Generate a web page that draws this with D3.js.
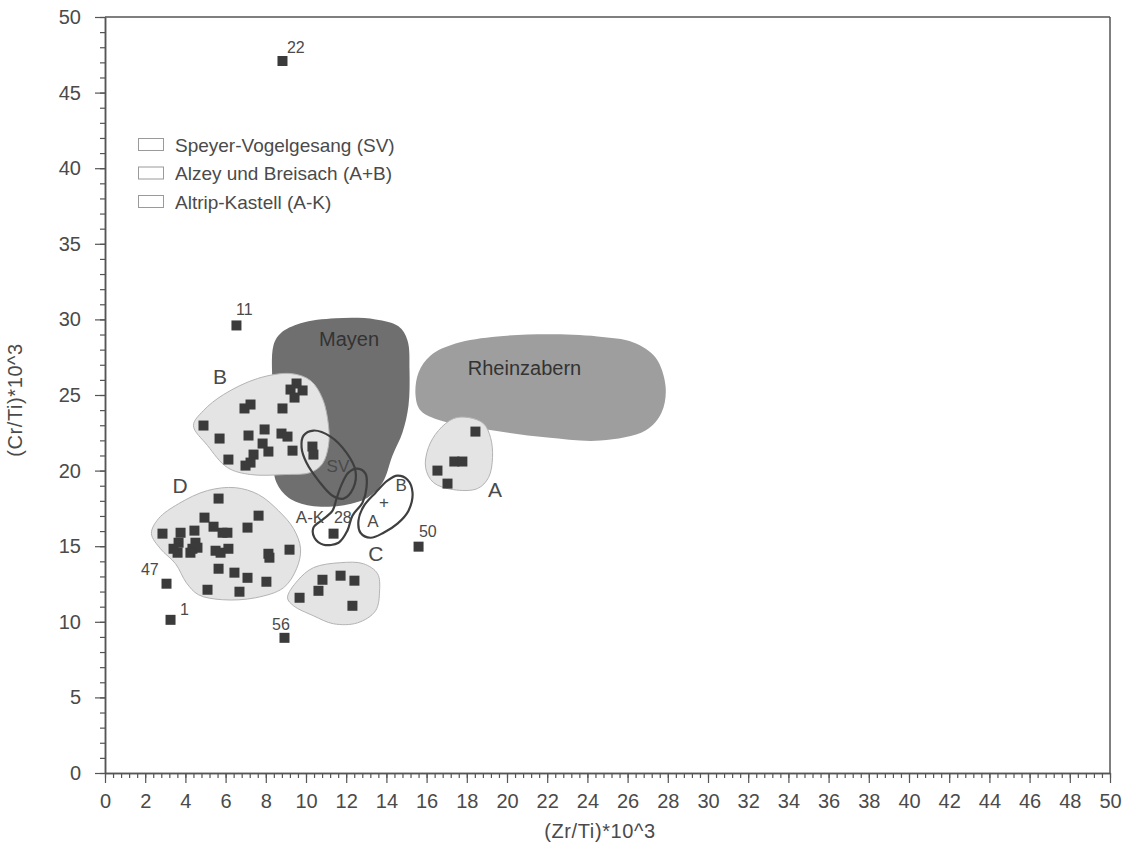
<!DOCTYPE html>
<html>
<head>
<meta charset="utf-8">
<script src="https://cdn.jsdelivr.net/npm/d3@7"></script>
<style>
  html, body { margin: 0; padding: 0; background: #ffffff; }
  svg { display: block; font-family: "Liberation Sans", Arial, sans-serif; }
</style>
</head>
<body>
<svg id="chart" width="1135" height="852"></svg>
<script>
// ---- axes ----
const xDomain = [0, 50];
const yDomain = [0, 50];
const xMajorTicks = d3.range(0, 51, 2);
const xMinorTicks = d3.range(0, 126).map(i => +(i * 0.4).toFixed(1));
const yMajorTicks = d3.range(0, 51, 5);
const yMinorTicks = d3.range(0, 51, 1);
const xTitle = "(Zr/Ti)*10^3";
const yTitle = "(Cr/Ti)*10^3";

// ---- reference fields (outlines in Zr/Ti, Cr/Ti units) ----
const fieldRheinzabern = [[15.45,24.97],[15.6,26.49],[16.2,27.62],[17.44,28.41],[19.53,28.87],[22.01,29.01],[24.5,28.87],[26.29,28.48],[27.39,27.48],[27.89,25.56],[27.69,23.84],[26.89,22.65],[24.65,21.99],[22.01,22.19],[19.33,22.65],[16.69,23.31],[15.7,23.97]];
const fieldMayen = [[8.38,28.28],[8.73,29.07],[9.73,29.74],[11.47,30.07],[13.46,30.0],[14.6,29.54],[15.05,28.61],[15.15,26.62],[15.1,24.3],[14.8,22.52],[14.3,20.99],[13.81,19.21],[13.06,18.21],[11.72,17.68],[10.22,17.68],[9.13,18.21],[8.53,19.21],[8.33,21.32],[8.33,25.3]];

// ---- sample groups (light fields) ----
const groupB = [[4.4,22.98],[4.9,23.97],[5.9,25.03],[7.59,26.09],[9.23,26.42],[10.22,25.96],[10.82,24.77],[11.12,22.98],[11.12,21.66],[10.82,20.46],[10.22,19.87],[8.98,19.74],[7.24,19.74],[6.09,20.2],[5.1,21.66]];
const groupD = [[2.31,15.83],[2.66,16.82],[3.66,17.81],[5.1,18.68],[6.49,18.87],[7.64,18.41],[8.63,17.35],[9.38,16.16],[9.73,14.83],[9.53,13.51],[8.88,12.25],[7.49,11.59],[5.85,11.46],[4.65,11.79],[4.05,12.58],[3.51,13.84],[2.76,14.83]];
const groupC = [[9.08,11.59],[9.58,12.72],[10.37,13.58],[11.72,13.91],[12.86,13.84],[13.56,13.18],[13.66,12.05],[13.46,10.73],[12.56,9.93],[11.37,9.87],[10.37,10.4],[9.38,11.06]];
const groupA = [[18.08,23.51],[18.83,23.11],[19.18,22.19],[19.28,20.86],[19.08,19.54],[18.53,18.81],[17.34,18.74],[16.34,19.21],[15.95,20.2],[16.09,21.52],[16.59,22.65],[17.34,23.44]];

// ---- production sites (outlined) ----
const siteSV = [[9.88,22.32],[10.37,22.65],[11.22,22.25],[12.01,21.19],[12.46,20.0],[12.36,18.87],[11.87,18.15],[11.32,18.34],[10.62,19.34],[10.02,20.53],[9.78,21.52]];
const siteAK = [[12.56,20.13],[12.96,19.8],[13.01,18.87],[12.81,17.88],[12.31,17.02],[12.06,16.03],[11.62,15.23],[10.87,15.1],[10.42,15.56],[10.37,16.23],[10.82,16.75],[11.32,17.35],[11.52,18.15],[11.77,19.07],[12.11,19.87]];
const siteAB = [[14.55,19.67],[15.05,19.4],[15.3,18.54],[15.1,17.35],[14.55,16.49],[13.86,15.89],[13.21,15.56],[12.71,15.89],[12.61,16.69],[12.86,17.62],[13.46,18.54],[14.05,19.34]];

// ---- measured samples ----
const samplesB = [[4.9,22.98],[5.7,22.12],[6.14,20.73],[6.94,24.11],[7.24,24.37],[7.14,22.32],[7.94,22.72],[8.83,24.11],[8.78,22.45],[9.08,22.25],[7.84,21.79],[8.13,21.26],[9.33,21.32],[10.32,21.59],[10.37,21.06],[7.39,21.06],[7.24,20.53],[6.99,20.33],[9.53,25.76],[9.23,25.36],[9.83,25.3],[9.43,24.83]];
const samplesD = [[5.65,18.15],[4.95,16.89],[7.64,17.02],[7.09,16.23],[2.86,15.83],[3.76,15.89],[4.45,16.03],[5.4,16.29],[5.85,15.89],[6.09,15.89],[3.66,15.23],[3.41,14.83],[3.61,14.57],[4.5,15.23],[4.35,14.83],[4.6,14.9],[4.25,14.57],[5.5,14.7],[5.75,14.57],[6.14,14.83],[8.13,14.5],[8.18,14.24],[9.18,14.77],[5.65,13.51],[6.44,13.25],[7.09,12.91],[8.03,12.65],[5.1,12.12],[6.69,11.99]];
const samplesC = [[9.68,11.59],[10.82,12.78],[10.62,12.05],[11.72,13.05],[12.41,12.72],[12.31,11.06]];
const samplesA = [[18.43,22.58],[17.38,20.6],[17.78,20.6],[16.54,20.0],[17.04,19.14]];
const outliers = [[8.83,47.09],[6.54,29.6],[3.06,12.52],[3.26,10.13],[8.93,8.94],[11.37,15.83],[15.6,14.97]];

// ---- annotations: [x, y, text] ----
const sampleNumbers = [[9.05,47.62,"22"],[6.52,30.29,"11"],[1.79,13.1,"47"],[3.73,10.45,"1"],[8.31,9.46,"56"],[11.39,16.53,"28"],[15.62,15.61,"50"]];
const groupLabels = [[5.72,25.73,"B"],[3.73,18.52,"D"],[13.48,14.02,"C"],[19.4,18.25,"A"]];
const fieldLabels = [[12.14,28.24,"Mayen"],[20.87,26.32,"Rheinzabern"]];
const siteLabels = [[11.59,19.91,"SV"],[10.2,16.53,"A-K"],[14.73,18.65,"B"],[13.33,16.27,"A"],[13.88,17.55,"+"]];
const legendItems = ["Speyer-Vogelgesang (SV)", "Alzey und Breisach (A+B)", "Altrip-Kastell (A-K)"];

const svg = d3.select("#chart");
const x = d3.scaleLinear().domain(xDomain).range([105, 1110]);
const y = d3.scaleLinear().domain(yDomain).range([773, 17]);

const line = d3.line().x(d => x(d[0])).y(d => y(d[1])).curve(d3.curveCatmullRomClosed.alpha(0.5));

const axisColor = "#555";
const textColor = "#4a4a4a";

// fields
svg.append("path").attr("d", line(fieldRheinzabern)).attr("fill", "#9e9e9e");
svg.append("path").attr("d", line(fieldMayen)).attr("fill", "#6f6f6f");
[groupB, groupD, groupC, groupA].forEach(g => {
  svg.append("path").attr("d", line(g)).attr("fill", "#e4e4e4").attr("stroke", "#b3b3b3").attr("stroke-width", 1);
});

// production-site outlines
[siteSV, siteAK, siteAB].forEach(s => {
  svg.append("path").attr("d", line(s)).attr("fill", "none").attr("stroke", "#3f3f3f").attr("stroke-width", 2.2);
});

// samples
const sq = 10;
const allSamples = [].concat(samplesB, samplesD, samplesC, samplesA, outliers);
svg.append("g").selectAll("rect").data(allSamples).join("rect")
  .attr("x", d => x(d[0]) - sq / 2).attr("y", d => y(d[1]) - sq / 2)
  .attr("width", sq).attr("height", sq).attr("fill", "#3b3b3b");

// annotations
svg.append("g").selectAll("text").data(sampleNumbers).join("text")
  .attr("x", d => x(d[0])).attr("y", d => y(d[1])).text(d => d[2])
  .attr("font-size", 16).attr("fill", textColor);
svg.append("g").selectAll("text").data(groupLabels).join("text")
  .attr("x", d => x(d[0])).attr("y", d => y(d[1])).text(d => d[2])
  .attr("text-anchor", "middle").attr("font-size", 21).attr("fill", textColor);
svg.append("g").selectAll("text").data(fieldLabels).join("text")
  .attr("x", d => x(d[0])).attr("y", d => y(d[1])).text(d => d[2])
  .attr("text-anchor", "middle").attr("font-size", 20).attr("fill", "#333");
svg.append("g").selectAll("text").data(siteLabels).join("text")
  .attr("x", d => x(d[0])).attr("y", d => y(d[1])).text(d => d[2])
  .attr("text-anchor", "middle").attr("font-size", 17).attr("fill", textColor);

// legend
const legend = svg.append("g");
legendItems.forEach((t, i) => {
  const cy = 145 + i * 28.5;
  legend.append("rect").attr("x", 138.5).attr("y", cy - 6.5).attr("width", 25).attr("height", 12)
    .attr("fill", "#fff").attr("stroke", "#9a9a9a").attr("stroke-width", 1);
  legend.append("text").attr("x", 175).attr("y", cy).attr("dy", "0.35em")
    .attr("font-size", 19).attr("fill", textColor).text(t);
});

// axes
function styleAxis(g) {
  g.select(".domain").attr("stroke", axisColor).attr("stroke-width", 1.5);
  g.selectAll(".tick line").attr("stroke", axisColor).attr("stroke-width", 1.2);
  g.selectAll(".tick text").attr("fill", textColor).attr("font-size", 20)
    .attr("font-family", "'Liberation Sans', Arial, sans-serif");
}
svg.append("g").attr("transform", "translate(0,773)")
  .call(d3.axisBottom(x).tickValues(xMinorTicks).tickSize(5).tickFormat("").tickSizeOuter(0))
  .call(styleAxis);
svg.append("g").attr("transform", "translate(0,773)")
  .call(d3.axisBottom(x).tickValues(xMajorTicks).tickSize(10).tickPadding(11).tickFormat(d3.format("d")).tickSizeOuter(0))
  .call(styleAxis);
svg.append("g").attr("transform", "translate(105,0)")
  .call(d3.axisLeft(y).tickValues(yMinorTicks).tickSize(5).tickFormat("").tickSizeOuter(0))
  .call(styleAxis);
svg.append("g").attr("transform", "translate(105,0)")
  .call(d3.axisLeft(y).tickValues(yMajorTicks).tickSize(10).tickPadding(14).tickFormat(d3.format("d")).tickSizeOuter(0))
  .call(styleAxis);

// frame
svg.append("line").attr("x1", x(0)).attr("x2", x(50)).attr("y1", y(50)).attr("y2", y(50))
  .attr("stroke", axisColor).attr("stroke-width", 1.5);
svg.append("line").attr("x1", x(50)).attr("x2", x(50)).attr("y1", y(50)).attr("y2", y(0))
  .attr("stroke", axisColor).attr("stroke-width", 1.5);

// titles
svg.append("text").attr("x", 600).attr("y", 838).attr("text-anchor", "middle")
  .attr("font-size", 20).attr("letter-spacing", 0.6).attr("fill", textColor).text(xTitle);
svg.append("text").attr("transform", "translate(22,400) rotate(-90)").attr("text-anchor", "middle")
  .attr("font-size", 20).attr("letter-spacing", 0.6).attr("fill", textColor).text(yTitle);
</script>
</body>
</html>
